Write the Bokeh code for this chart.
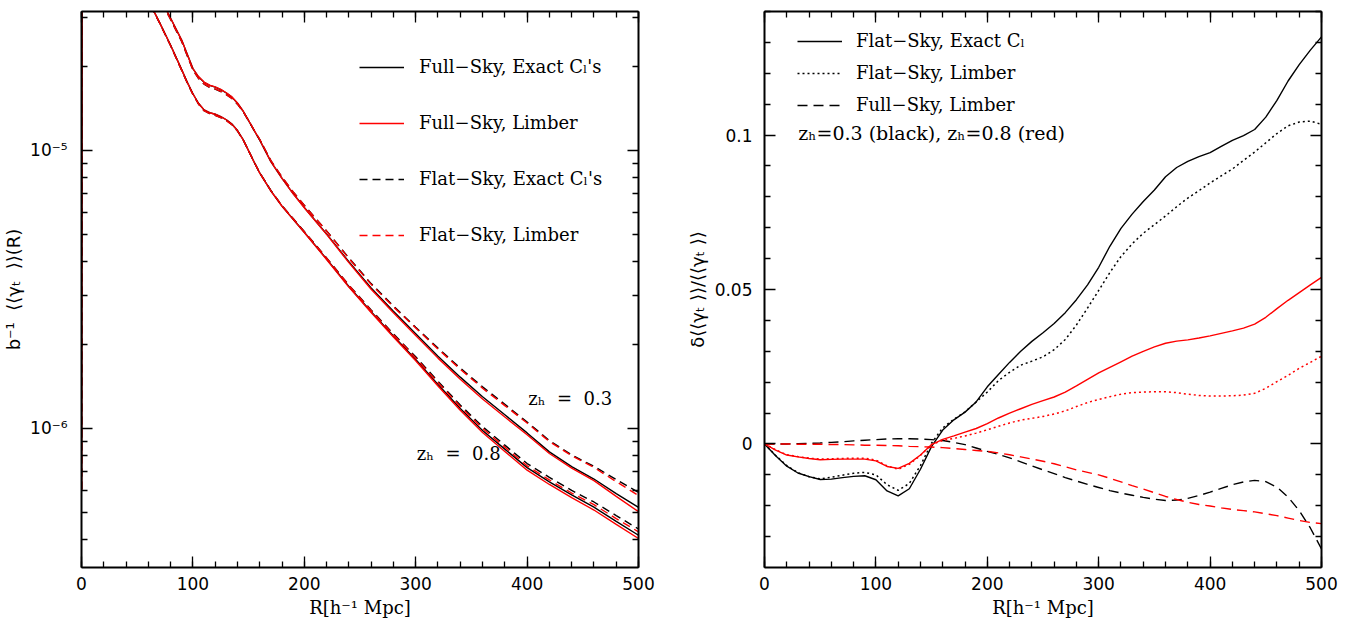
from bokeh.plotting import figure
from bokeh.models import (Range1d, LinearAxis, LogAxis, FixedTicker, SingleIntervalTicker,
                          Legend, LegendItem, Label, CustomJSTickFormatter)
from bokeh.layouts import row
from bokeh.embed import file_html
from bokeh.resources import INLINE

# ---------------- data: left panel  b^-1 <<gamma_T>>(R) ----------------
R_left = [0, 0.5, 50, 60, 70, 80, 90, 95, 100, 105, 110, 115, 120, 125, 130, 135, 140, 145, 150, 155,
          160, 170, 180, 190, 200, 220, 240, 260, 280, 300, 320, 340, 360, 380, 400, 420, 440, 460, 480, 500]

full_exact_z03 = [6.03e-7, 1e-3, 5.13e-5, 4.28e-5, 3.58e-5, 2.99e-5, 2.49e-5, 2.213e-5, 1.97e-5, 1.841e-5,
                  1.76e-5, 1.714e-5, 1.69e-5, 1.656e-5, 1.61e-5, 1.556e-5, 1.48e-5, 1.387e-5, 1.28e-5, 1.180e-5,
                  1.09e-5, 9.12e-6, 7.94e-6, 7.00e-6, 6.24e-6, 5.01e-6, 3.98e-6, 3.20e-6, 2.64e-6, 2.19e-6,
                  1.82e-6, 1.53e-6, 1.30e-6, 1.12e-6, 9.64e-7, 8.24e-7, 7.29e-7, 6.58e-7, 5.83e-7, 5.20e-7]
full_limber_z03 = [6.03e-7, 1e-3, 5.13e-5, 4.28e-5, 3.58e-5, 2.99e-5, 2.49e-5, 2.216e-5, 1.97e-5, 1.844e-5,
                   1.763e-5, 1.717e-5, 1.693e-5, 1.659e-5, 1.613e-5, 1.559e-5, 1.482e-5, 1.389e-5, 1.282e-5, 1.182e-5,
                   1.091e-5, 9.12e-6, 7.94e-6, 6.99e-6, 6.22e-6, 4.99e-6, 3.95e-6, 3.17e-6, 2.61e-6, 2.16e-6,
                   1.791e-6, 1.504e-6, 1.276e-6, 1.100e-6, 9.49e-7, 8.13e-7, 7.20e-7, 6.49e-7, 5.70e-7, 5.02e-7]
flat_exact_z03 = [6.03e-7, 1e-3, 5.07e-5, 4.23e-5, 3.54e-5, 2.96e-5, 2.46e-5, 2.189e-5, 1.95e-5, 1.816e-5,
                  1.733e-5, 1.686e-5, 1.662e-5, 1.630e-5, 1.587e-5, 1.538e-5, 1.468e-5, 1.381e-5, 1.279e-5, 1.182e-5,
                  1.095e-5, 9.19e-6, 8.02e-6, 7.10e-6, 6.35e-6, 5.14e-6, 4.11e-6, 3.32e-6, 2.76e-6, 2.314e-6,
                  1.946e-6, 1.650e-6, 1.412e-6, 1.222e-6, 1.055e-6, 9.05e-7, 8.03e-7, 7.31e-7, 6.55e-7, 5.89e-7]
flat_limber_z03 = [6.03e-7, 1e-3, 5.07e-5, 4.23e-5, 3.54e-5, 2.96e-5, 2.467e-5, 2.192e-5, 1.950e-5, 1.820e-5,
                   1.737e-5, 1.690e-5, 1.665e-5, 1.632e-5, 1.589e-5, 1.540e-5, 1.470e-5, 1.382e-5, 1.280e-5, 1.183e-5,
                   1.096e-5, 9.19e-6, 8.02e-6, 7.10e-6, 6.34e-6, 5.13e-6, 4.09e-6, 3.30e-6, 2.74e-6, 2.30e-6,
                   1.931e-6, 1.634e-6, 1.396e-6, 1.209e-6, 1.046e-6, 8.98e-7, 7.98e-7, 7.24e-7, 6.44e-7, 5.74e-7]

full_exact_z08 = [6.03e-7, 1e-3, 4.16e-5, 3.47e-5, 2.89e-5, 2.39e-5, 1.95e-5, 1.758e-5, 1.60e-5, 1.479e-5,
                  1.40e-5, 1.368e-5, 1.35e-5, 1.324e-5, 1.29e-5, 1.245e-5, 1.18e-5, 1.096e-5, 9.98e-6, 9.08e-6,
                  8.30e-6, 7.16e-6, 6.31e-6, 5.66e-6, 5.08e-6, 4.07e-6, 3.24e-6, 2.63e-6, 2.15e-6, 1.77e-6,
                  1.44e-6, 1.18e-6, 9.84e-7, 8.43e-7, 7.23e-7, 6.43e-7, 5.77e-7, 5.21e-7, 4.63e-7, 4.13e-7]
full_limber_z08 = [6.03e-7, 1e-3, 4.16e-5, 3.47e-5, 2.89e-5, 2.39e-5, 1.95e-5, 1.757e-5, 1.60e-5, 1.478e-5,
                   1.40e-5, 1.367e-5, 1.35e-5, 1.323e-5, 1.29e-5, 1.244e-5, 1.18e-5, 1.095e-5, 9.97e-6, 9.07e-6,
                   8.29e-6, 7.15e-6, 6.30e-6, 5.65e-6, 5.07e-6, 4.056e-6, 3.224e-6, 2.613e-6, 2.132e-6, 1.752e-6,
                   1.422e-6, 1.163e-6, 9.67e-7, 8.27e-7, 7.08e-7, 6.29e-7, 5.64e-7, 5.09e-7, 4.52e-7, 4.02e-7]
flat_exact_z08 = [6.03e-7, 1e-3, 4.14e-5, 3.45e-5, 2.88e-5, 2.38e-5, 1.94e-5, 1.749e-5, 1.591e-5, 1.470e-5,
                  1.390e-5, 1.357e-5, 1.339e-5, 1.314e-5, 1.282e-5, 1.239e-5, 1.176e-5, 1.094e-5, 9.98e-6, 9.085e-6,
                  8.31e-6, 7.18e-6, 6.33e-6, 5.69e-6, 5.11e-6, 4.11e-6, 3.28e-6, 2.67e-6, 2.19e-6, 1.811e-6,
                  1.478e-6, 1.215e-6, 1.016e-6, 8.71e-7, 7.48e-7, 6.67e-7, 5.99e-7, 5.44e-7, 4.86e-7, 4.35e-7]
flat_limber_z08 = [6.03e-7, 1e-3, 4.14e-5, 3.45e-5, 2.88e-5, 2.38e-5, 1.94e-5, 1.750e-5, 1.592e-5, 1.470e-5,
                   1.390e-5, 1.357e-5, 1.339e-5, 1.314e-5, 1.281e-5, 1.239e-5, 1.176e-5, 1.094e-5, 9.98e-6, 9.08e-6,
                   8.31e-6, 7.17e-6, 6.33e-6, 5.68e-6, 5.10e-6, 4.10e-6, 3.27e-6, 2.655e-6, 2.176e-6, 1.795e-6,
                   1.463e-6, 1.200e-6, 1.001e-6, 8.57e-7, 7.34e-7, 6.53e-7, 5.86e-7, 5.32e-7, 4.74e-7, 4.25e-7]

# ---------------- data: right panel  fractional difference ----------------
R_right = [0, 10, 20, 30, 40, 50, 60, 70, 80, 90, 100, 110, 120, 130, 140, 150, 160, 170, 180, 190, 200,
           210, 220, 230, 240, 250, 260, 270, 280, 290, 300, 310, 320, 330, 340, 350, 360, 370, 380, 390, 400,
           410, 420, 430, 440, 450, 460, 470, 480, 490, 500]

d_flat_exact_z03 = [0, -0.0038, -0.0072, -0.0094, -0.0106, -0.0115, -0.0114, -0.0109, -0.0105, -0.0103, -0.0116,
                    -0.0152, -0.0168, -0.0145, -0.0082, -0.0008, 0.0045, 0.0078, 0.0103, 0.0136, 0.0185,
                    0.0225, 0.0264, 0.0300, 0.0332, 0.0360, 0.0390, 0.0425, 0.0467, 0.0515, 0.0572,
                    0.0640, 0.0698, 0.0744, 0.0785, 0.0822, 0.0865, 0.0895, 0.0915, 0.0930, 0.0943,
                    0.0963, 0.0983, 0.0998, 0.1018, 0.1058, 0.1112, 0.1175, 0.1228, 0.1275, 0.1318]
d_flat_limber_z03 = [0, -0.0037, -0.0070, -0.0093, -0.0106, -0.0113, -0.0108, -0.0101, -0.0095, -0.0092, -0.0100,
                     -0.0132, -0.0150, -0.0128, -0.0070, 0.0003, 0.0052, 0.0080, 0.0104, 0.0136, 0.0168,
                     0.0205, 0.0232, 0.0255, 0.0268, 0.0282, 0.0305, 0.0338, 0.0385, 0.0440, 0.0497,
                     0.0555, 0.0607, 0.0648, 0.0682, 0.0710, 0.0738, 0.0768, 0.0796, 0.0820, 0.0845,
                     0.0868, 0.0890, 0.0918, 0.0945, 0.0975, 0.1005, 0.1030, 0.1042, 0.1045, 0.1035]
d_full_limber_z03 = [0, 0.0000, 0.0000, 0.0001, 0.0002, 0.0003, 0.0005, 0.0007, 0.0010, 0.0012, 0.0014,
                     0.0016, 0.0017, 0.0017, 0.0016, 0.0014, 0.0011, 0.0005, -0.0002, -0.0013, -0.0024,
                     -0.0034, -0.0045, -0.0058, -0.0071, -0.0084, -0.0096, -0.0109, -0.0120, -0.0131, -0.0141,
                     -0.0151, -0.0159, -0.0166, -0.0173, -0.0179, -0.0183, -0.0182, -0.0176, -0.0167, -0.0156,
                     -0.0144, -0.0132, -0.0123, -0.0118, -0.0122, -0.0140, -0.0172, -0.0216, -0.0272, -0.0340]
d_flat_exact_z08 = [0, -0.0020, -0.0036, -0.0042, -0.0047, -0.0051, -0.0050, -0.0049, -0.0049, -0.0049, -0.0055,
                    -0.0073, -0.0079, -0.0063, -0.0036, -0.0002, 0.0015, 0.0026, 0.0038, 0.0050, 0.0066,
                    0.0084, 0.0100, 0.0114, 0.0128, 0.0140, 0.0152, 0.0168, 0.0188, 0.0209, 0.0230,
                    0.0248, 0.0266, 0.0284, 0.0300, 0.0314, 0.0326, 0.0333, 0.0337, 0.0343, 0.0350,
                    0.0358, 0.0366, 0.0375, 0.0388, 0.0410, 0.0438, 0.0465, 0.0490, 0.0515, 0.0539]
d_flat_limber_z08 = [0, -0.0019, -0.0035, -0.0041, -0.0046, -0.0049, -0.0048, -0.0047, -0.0046, -0.0046, -0.0052,
                     -0.0071, -0.0082, -0.0066, -0.0037, -0.0002, 0.0011, 0.0018, 0.0026, 0.0035, 0.0046,
                     0.0057, 0.0068, 0.0077, 0.0083, 0.0089, 0.0097, 0.0107, 0.0121, 0.0134, 0.0144,
                     0.0153, 0.0161, 0.0166, 0.0168, 0.0169, 0.0169, 0.0166, 0.0161, 0.0157, 0.0155,
                     0.0155, 0.0156, 0.0158, 0.0164, 0.0180, 0.0202, 0.0222, 0.0245, 0.0264, 0.0284]
d_full_limber_z08 = [0, 0.0000, 0.0000, -0.0001, -0.0001, -0.0001, -0.0002, -0.0002, -0.0003, -0.0004, -0.0004,
                     -0.0005, -0.0006, -0.0008, -0.0009, -0.0010, -0.0012, -0.0015, -0.0018, -0.0021, -0.0024,
                     -0.0029, -0.0035, -0.0042, -0.0049, -0.0056, -0.0064, -0.0074, -0.0084, -0.0092, -0.0100,
                     -0.0111, -0.0123, -0.0135, -0.0146, -0.0158, -0.0170, -0.0180, -0.0189, -0.0196, -0.0201,
                     -0.0207, -0.0212, -0.0216, -0.0220, -0.0226, -0.0232, -0.0240, -0.0248, -0.0254, -0.0258]

# tick positions
x_major = 100
left_major = [1e-6, 1e-5]
left_minor = [4e-7, 5e-7, 6e-7, 7e-7, 8e-7, 9e-7, 2e-6, 3e-6, 4e-6, 5e-6, 6e-6, 7e-6, 8e-6, 9e-6, 2e-5, 3e-5]
right_major = [0, 0.05, 0.1]
right_minor = [-0.03, -0.02, -0.01, 0.01, 0.02, 0.03, 0.04, 0.06, 0.07, 0.08, 0.09, 0.11, 0.12, 0.13, 0.14]

BLACK = "#000000"
RED = "#ff0000"
SANS = "DejaVu Sans"
SERIF = "DejaVu Serif"
NB = "\u00a0"

log_fmt = CustomJSTickFormatter(code="""
const sup = {'-':'\u207b','0':'\u2070','1':'\u00b9','2':'\u00b2','3':'\u00b3','4':'\u2074',
             '5':'\u2075','6':'\u2076','7':'\u2077','8':'\u2078','9':'\u2079'};
const e = String(Math.round(Math.log10(tick)));
return '10' + e.split('').map(c => sup[c]).join('');
""")
lin_fmt = CustomJSTickFormatter(code="""
if (Math.abs(tick) < 1e-12) { return '0'; }
return String(Math.round(tick * 100) / 100);
""")
blank_fmt = CustomJSTickFormatter(code="return '';")


def style_axis(ax, labels=True):
    ax.axis_line_width = 2
    ax.axis_line_color = BLACK
    ax.major_tick_in = 11
    ax.major_tick_out = 0
    ax.minor_tick_in = 6
    ax.minor_tick_out = 0
    ax.major_tick_line_width = 1.3
    ax.minor_tick_line_width = 1.3
    ax.major_label_text_font = SANS
    ax.major_label_text_font_size = "17px"
    ax.major_label_text_color = BLACK
    ax.axis_label_text_font_style = "normal"
    ax.axis_label_text_color = BLACK
    if not labels:
        ax.formatter = blank_fmt
        ax.major_label_standoff = 0


def make_fig(y_range, log, border_left):
    p = figure(frame_width=557, frame_height=556, x_range=Range1d(0, 500), y_range=y_range,
               y_axis_type="log" if log else "linear", output_backend="svg", toolbar_location=None,
               min_border_left=border_left, min_border_right=18, min_border_top=11, min_border_bottom=45)
    p.xgrid.visible = False
    p.ygrid.visible = False
    p.outline_line_color = None
    p.background_fill_color = "white"
    p.border_fill_color = "white"
    bottom = p.below[0]
    bottom.ticker = SingleIntervalTicker(interval=x_major, num_minor_ticks=5)
    style_axis(bottom)
    bottom.axis_label = "R[h\u207b\u00b9 Mpc]"
    bottom.axis_label_text_font = SERIF
    bottom.axis_label_text_font_size = "18px"
    bottom.axis_label_standoff = 4
    bottom.major_label_standoff = 9
    top = LinearAxis(ticker=SingleIntervalTicker(interval=x_major, num_minor_ticks=5))
    p.add_layout(top, "above")
    style_axis(top, labels=False)
    return p


# ---------------- left panel ----------------
p1 = make_fig(Range1d(3.162e-7, 3.162e-5), True, 72)
ly = p1.left[0]
ly.ticker = FixedTicker(ticks=left_major, minor_ticks=left_minor)
ly.formatter = log_fmt
style_axis(ly)
ly.major_label_standoff = 14
ly.axis_label = "b\u207b\u00b9" + NB + " \u27e8\u27e8\u03b3\u209c" + NB + " \u27e9\u27e9(R)"
ly.axis_label_text_font = SANS
ly.axis_label_text_font_size = "18px"
ly.axis_label_standoff = 3
r1_right = LogAxis(ticker=FixedTicker(ticks=left_major, minor_ticks=left_minor))
p1.add_layout(r1_right, "right")
style_axis(r1_right, labels=False)

lw = 1.4
DASH_L = "8 5"
l_rends = []
for fe, fl, xe, xl in [(full_exact_z03, full_limber_z03, flat_exact_z03, flat_limber_z03),
                       (full_exact_z08, full_limber_z08, flat_exact_z08, flat_limber_z08)]:
    a = p1.line(R_left, fe, line_color=BLACK, line_width=lw)
    b = p1.line(R_left, fl, line_color=RED, line_width=lw)
    c = p1.line(R_left, xe, line_color=BLACK, line_width=lw, line_dash=DASH_L)
    d = p1.line(R_left, xl, line_color=RED, line_width=lw, line_dash=DASH_L)
    l_rends.append((a, b, c, d))

a, b, c, d = l_rends[0]
leg1 = Legend(items=[LegendItem(label="Full\u2212Sky, Exact C\u2097's", renderers=[a]),
                     LegendItem(label="Full\u2212Sky, Limber", renderers=[b]),
                     LegendItem(label="Flat\u2212Sky, Exact C\u2097's", renderers=[c]),
                     LegendItem(label="Flat\u2212Sky, Limber", renderers=[d])],
              location=(278, 322), orientation="vertical", border_line_color=None,
              background_fill_alpha=0, padding=0, margin=0, spacing=35, glyph_width=45,
              glyph_height=20, label_height=20, label_standoff=15,
              label_text_font=SERIF, label_text_font_size="18px", label_text_color=BLACK)
p1.add_layout(leg1)

p1.add_layout(Label(x=401, y=1.28e-6, text="z\u2095" + NB + " =" + NB + " 0.3", text_font=SERIF,
                    text_font_size="18px", text_baseline="middle", text_color=BLACK))
p1.add_layout(Label(x=301, y=8.11e-7, text="z\u2095" + NB + " =" + NB + " 0.8", text_font=SERIF,
                    text_font_size="18px", text_baseline="middle", text_color=BLACK))

# ---------------- right panel ----------------
p2 = make_fig(Range1d(-0.04, 0.14), False, 108)
ry = p2.left[0]
ry.ticker = FixedTicker(ticks=right_major, minor_ticks=right_minor)
ry.formatter = lin_fmt
style_axis(ry)
ry.major_label_standoff = 12
ry.axis_label = "\u03b4\u27e8\u27e8\u03b3\u209c" + NB + "\u27e9\u27e9/\u27e8\u27e8\u03b3\u209c" + NB + "\u27e9\u27e9"
ry.axis_label_text_font = SANS
ry.axis_label_text_font_size = "18px"
ry.axis_label_standoff = 4
r2_right = LinearAxis(ticker=FixedTicker(ticks=right_major, minor_ticks=right_minor))
p2.add_layout(r2_right, "right")
style_axis(r2_right, labels=False)

DASH_R = "10 6"
DOT = "2 3"
k1 = p2.line(R_right, d_flat_exact_z03, line_color=BLACK, line_width=lw)
k2 = p2.line(R_right, d_flat_limber_z03, line_color=BLACK, line_width=1.5, line_dash=DOT)
k3 = p2.line(R_right, d_full_limber_z03, line_color=BLACK, line_width=lw, line_dash=DASH_R)
p2.line(R_right, d_flat_exact_z08, line_color=RED, line_width=lw)
p2.line(R_right, d_flat_limber_z08, line_color=RED, line_width=1.5, line_dash=DOT)
p2.line(R_right, d_full_limber_z08, line_color=RED, line_width=lw, line_dash=DASH_R)

leg2 = Legend(items=[LegendItem(label="Flat\u2212Sky, Exact C\u2097", renderers=[k1]),
                     LegendItem(label="Flat\u2212Sky, Limber", renderers=[k2]),
                     LegendItem(label="Full\u2212Sky, Limber", renderers=[k3])],
              location=(33, 452), orientation="vertical", border_line_color=None,
              background_fill_alpha=0, padding=0, margin=0, spacing=11, glyph_width=45,
              glyph_height=20, label_height=20, label_standoff=14,
              label_text_font=SERIF, label_text_font_size="18px", label_text_color=BLACK)
p2.add_layout(leg2)
p2.add_layout(Label(x=30.3, y=0.1006, text="z\u2095=0.3 (black), z\u2095=0.8 (red)", text_font=SERIF,
                    text_font_size="19px", text_baseline="middle", text_color=BLACK))

layout = row(p1, p2)
open("out.html", "w", encoding="utf-8").write(file_html(layout, INLINE))
